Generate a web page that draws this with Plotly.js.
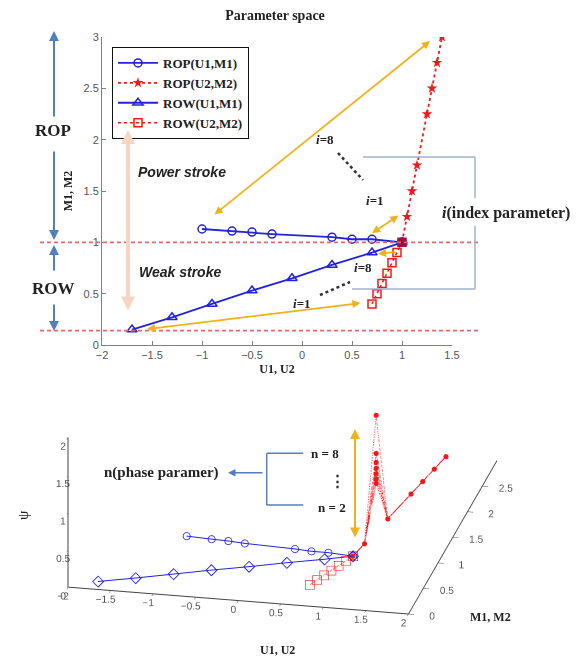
<!DOCTYPE html>
<html><head><meta charset="utf-8">
<script src="https://cdn.plot.ly/plotly-3.0.1.min.js"></script>
<style>html,body{margin:0;padding:0;background:#fff}#chart{width:588px;height:659px}</style>
</head><body><div id="chart"></div>
<script>
// ---------- data ----------
const U1_ROP = [-1.0, -0.7, -0.5, -0.3, 0.3, 0.5, 0.7, 1.0];
const M1_ROP = [1.13, 1.11, 1.10, 1.08, 1.05, 1.03, 1.03, 1.0];
const U2_ROP = [1.0, 1.05, 1.10, 1.15, 1.25, 1.30, 1.35, 1.40];
const M2_ROP = [1.0, 1.25, 1.50, 1.75, 2.25, 2.50, 2.75, 3.0];
const U1_ROW = [-1.7, -1.3, -0.9, -0.5, -0.1, 0.3, 0.7, 1.0];
const M1_ROW = [0.15, 0.27, 0.40, 0.53, 0.65, 0.78, 0.90, 1.0];
const U2_ROW = [0.70, 0.75, 0.80, 0.85, 0.90, 0.95, 1.0];
const M2_ROW = [0.40, 0.50, 0.60, 0.70, 0.80, 0.90, 1.0];

// psi (3-D view)
const PSI_ROP_U1 = [0, 0, 0, 0, 0, 0, 0, 0];
const PSI_ROW_U1 = [0, 0, 0, 0, 0, 0, 0, 0];
const PSI_ROW_U2 = [0, 0, 0, 0, 0, 0, 0];
const N_LEVELS = [2, 3, 4, 5, 6, 7, 8];
const PSI_ROP_U2_BY_N = [
  [0, 0, 0.64, 0, 0, 0, 0, 0],
  [0, 0, 0.70, 0, 0, 0, 0, 0],
  [0, 0, 0.77, 0, 0, 0, 0, 0],
  [0, 0, 0.84, 0, 0, 0, 0, 0],
  [0, 0, 0.92, 0, 0, 0, 0, 0],
  [0, 0, 1.04, 0, 0, 0, 0, 0],
  [0, 0, 1.55, 0, 0, 0, 0, 0]
];
const SERIES_NAMES = ['ROP(U1,M1)', 'ROP(U2,M2)', 'ROW(U1,M1)', 'ROW(U2,M2)'];
const X_TICKS_2D = [-2, -1.5, -1, -0.5, 0, 0.5, 1, 1.5];
const Y_TICKS_2D = [0, 0.5, 1, 1.5, 2, 2.5, 3];
const X_TICKS_3D = [-2, -1.5, -1, -0.5, 0, 0.5, 1, 1.5, 2];
const Y_TICKS_3D = [0, 0.5, 1, 1.5, 2, 2.5];
const Z_TICKS_3D = [0, 0.5, 1, 1.5, 2];

// ---------- styles ----------
const W = 588, H = 659;
const PX = p => p / W, PY = p => 1 - p / H;
const BLUE = '#2323d8', RED = '#ee1a1a', YEL = '#efb21c', STEEL = '#4f7fbf', BRK = '#9fb5cc';
const SERIF = 'Liberation Serif, Times New Roman, serif';
const SANS = 'Liberation Sans, Arial, sans-serif';
const tickFont = {family: SANS, size: 11, color: '#555'};

const sqSymbols = U2_ROW.map((_, i) => i === U2_ROW.length - 1 ? 'square' : 'square-open');
const sqColors = U2_ROW.map((_, i) => i === U2_ROW.length - 1 ? '#9c1140' : RED);

const traces = [
  {type: 'scatter', x: U1_ROP, y: M1_ROP, name: SERIES_NAMES[0], mode: 'lines+markers',
   line: {color: BLUE, width: 1.8}, marker: {symbol: 'circle-open', size: 8, color: BLUE, line: {width: 1.5}}},
  {type: 'scatter', x: U2_ROP, y: M2_ROP, name: SERIES_NAMES[1], mode: 'lines+markers',
   line: {color: RED, width: 1.8, dash: 'dot'}, marker: {symbol: 'star', size: 8, color: RED}},
  {type: 'scatter', x: U1_ROW, y: M1_ROW, name: SERIES_NAMES[2], mode: 'lines+markers',
   line: {color: BLUE, width: 1.8}, marker: {symbol: 'triangle-up-open', size: 9, color: BLUE, line: {width: 1.5}}},
  {type: 'scatter', x: U2_ROW, y: M2_ROW, name: SERIES_NAMES[3], mode: 'lines+markers',
   line: {color: RED, width: 1.5, dash: 'dot'}, marker: {symbol: sqSymbols, size: 8, color: sqColors, line: {width: 1.5, color: sqColors}}}
];

traces.push({type: 'scatter3d', x: U1_ROP, y: M1_ROP, z: PSI_ROP_U1, mode: 'lines+markers', showlegend: false,
  line: {color: BLUE, width: 2}, marker: {symbol: 'circle-open', size: 4.5, color: BLUE}});
traces.push({type: 'scatter3d', x: U1_ROW, y: M1_ROW, z: PSI_ROW_U1, mode: 'lines+markers', showlegend: false,
  line: {color: BLUE, width: 2}, marker: {symbol: 'diamond-open', size: 4, color: BLUE}});
traces.push({type: 'scatter3d', x: U2_ROW, y: M2_ROW, z: PSI_ROW_U2, mode: 'lines+markers', showlegend: false,
  line: {color: RED, width: 2, dash: 'dot'}, marker: {symbol: 'square-open', size: 4, color: sqColors}});
PSI_ROP_U2_BY_N.forEach((psi, k) => {
  traces.push({type: 'scatter3d', x: U2_ROP, y: M2_ROP, z: psi, mode: 'lines+markers', showlegend: false,
    name: 'n=' + N_LEVELS[k],
    line: {color: RED, width: 2, dash: 'dot'}, marker: {symbol: 'circle', size: 3, color: RED}});
});

const ann = [];
const shp = [];
function ptxt(x, y, text, size, font, extra) {
  ann.push(Object.assign({xref: 'paper', yref: 'paper', x: PX(x), y: PY(y), text: text, showarrow: false,
    xanchor: 'center', yanchor: 'middle', font: {family: font || SERIF, size: size, color: '#222'}}, extra || {}));
}
function parrow(x1, y1, x0, y0, color, width, both, size) {
  ann.push({xref: 'paper', yref: 'paper', x: PX(x1), y: PY(y1), ax: x0 - x1, ay: y0 - y1, text: '',
    showarrow: true, arrowhead: 2, arrowsize: size || 1, arrowwidth: width, arrowcolor: color,
    arrowside: both ? 'end+start' : 'end', startarrowhead: 2, startarrowsize: size || 1});
}
function darrow(x1, y1, x0, y0, both) {
  ann.push({xref: 'x', yref: 'y', axref: 'x', ayref: 'y', x: x1, y: y1, ax: x0, ay: y0, text: '',
    showarrow: true, arrowhead: 2, arrowsize: 0.9, arrowwidth: 1.8, arrowcolor: YEL,
    arrowside: both ? 'end+start' : 'end', startarrowhead: 2, startarrowsize: 0.9});
}
function pline(x0, y0, x1, y1, color, width, dash) {
  shp.push({type: 'line', xref: 'paper', yref: 'paper', x0: PX(x0), y0: PY(y0), x1: PX(x1), y1: PY(y1),
    line: {color: color, width: width, dash: dash || 'solid'}});
}

[3.05, 1.0, 0.14].forEach(v => shp.push({type: 'line', xref: 'paper', yref: 'y', x0: PX(40), x1: PX(478), y0: v, y1: v,
  line: {color: '#e06a6a', width: 1.6, dash: '4px,3px'}}));

parrow(54, 31, 54, 118, STEEL, 2, false);
parrow(54, 240, 54, 150, STEEL, 2, false);
parrow(54, 245, 54, 272, STEEL, 2, false);
parrow(54, 331, 54, 303, STEEL, 2, false);
ptxt(53, 130, '<b>ROP</b>', 17);
ptxt(53, 288, '<b>ROW</b>', 17);

parrow(128, 130, 128, 312, '#f6d6c2', 4, true, 0.7);
ptxt(182, 172, '<b><i>Power stroke</i></b>', 14, SANS);
ptxt(180, 272, '<b><i>Weak stroke</i></b>', 14, SANS);

darrow(1.28, 2.96, -0.89, 1.26, true);
darrow(0.70, 1.09, 0.98, 1.27, true);
darrow(0.76, 0.89, 0.95, 0.905, false);
darrow(-1.55, 0.155, 0.60, 0.41, true);

ptxt(325, 139, '<b><i>i</i>=8</b>', 13);
ptxt(375, 200, '<b><i>i</i>=1</b>', 13);
ptxt(363, 267, '<b><i>i</i>=8</b>', 13);
ptxt(302, 304, '<b><i>i</i>=1</b>', 13);
pline(338, 153, 363, 180, '#333', 2.5, 'dot');
pline(320, 295, 350, 282, '#333', 2.5, 'dot');

pline(363, 157, 475, 157, BRK, 1.5);
pline(475, 157, 475, 198, BRK, 1.5);
pline(475, 226, 475, 289, BRK, 1.5);
pline(352, 289, 475, 289, BRK, 1.5);
ptxt(506, 213, '<b><i>i</i>(index parameter)</b>', 16);

ptxt(162, 472, '<b>n(phase paramer)</b>', 15);
parrow(228, 472.7, 264, 472.7, STEEL, 1.5, false);
pline(266.7, 453.3, 266.7, 505, '#5b7fb0', 1.5);
pline(266.7, 453.3, 303.3, 453.3, '#5b7fb0', 1.5);
pline(266.7, 505, 303.3, 505, '#5b7fb0', 1.5);
ptxt(325, 453, '<b>n = 8</b>', 13);
ptxt(337, 481, '<b>⋮</b>', 15);
ptxt(332, 507, '<b>n = 2</b>', 13);
parrow(355, 429, 355, 539, YEL, 2, true);
ptxt(277, 650, '<b>U1, U2</b>', 12);
ptxt(490, 617, '<b>M1, M2</b>', 12);
ptxt(23, 515, 'ψ', 15, SERIF, {textangle: -90});

const L = 1.5;
const K = 1.69;
const ax3 = (rng, tv) => ({range: rng, tickvals: tv, showgrid: false, zeroline: false, showline: true,
  linecolor: '#444', linewidth: 2, ticks: 'outside', ticklen: 6, tickcolor: '#444', showbackground: false,
  showspikes: false, title: {text: ''}, tickfont: tickFont, tickangle: 0});

const layout = {
  width: W, height: H, margin: {l: 0, r: 0, t: 0, b: 0}, paper_bgcolor: '#fff', plot_bgcolor: 'rgba(0,0,0,0)',
  title: {text: '<b>Parameter space</b>', x: PX(275), y: PY(15), xanchor: 'center', yanchor: 'middle',
    font: {family: SERIF, size: 14, color: '#222'}},
  showlegend: true,
  legend: {x: PX(112), y: PY(47), xanchor: 'left', yanchor: 'top', bgcolor: '#fff', bordercolor: '#111', borderwidth: 1,
    font: {family: SERIF, size: 13, color: '#222', weight: 'bold'}, itemwidth: 40, tracegroupgap: 0},
  xaxis: {domain: [PX(102), PX(452)], range: [-2, 1.5], tickvals: X_TICKS_2D, showgrid: false, zeroline: false,
    showline: true, linecolor: '#808080', ticks: 'inside', ticklen: 4, tickcolor: '#808080', tickfont: tickFont,
    automargin: false, anchor: 'y',
    title: {text: '<b>U1, U2</b>', font: {family: SERIF, size: 12, color: '#222'}, standoff: 4}},
  yaxis: {domain: [PY(345), PY(37)], range: [0, 3], tickvals: Y_TICKS_2D, showgrid: false, zeroline: false,
    showline: true, linecolor: '#808080', ticks: 'inside', ticklen: 4, tickcolor: '#808080', tickfont: tickFont,
    automargin: false, anchor: 'x',
    title: {text: '<b>M1, M2</b>', font: {family: SERIF, size: 12, color: '#222'}, standoff: 8}},
  scene: {
    domain: {x: [0, 0.961], y: [0.0068, 0.632]},
    aspectmode: 'manual', aspectratio: {x: 1 * K, y: 1.218 * K, z: 0.463 * K},
    camera: {eye: {x: 0.194 * L, y: -0.909 * L, z: 0.370 * L}, up: {x: 0, y: 0, z: 1}, center: {x: 0, y: 0, z: 0},
      projection: {type: 'orthographic'}},
    xaxis: ax3([-2, 2], X_TICKS_3D), yaxis: ax3([0, 3], Y_TICKS_3D), zaxis: ax3([0, 2], Z_TICKS_3D)
  },
  annotations: ann, shapes: shp
};

Plotly.newPlot('chart', traces, layout, {displayModeBar: false});
</script></body></html>
